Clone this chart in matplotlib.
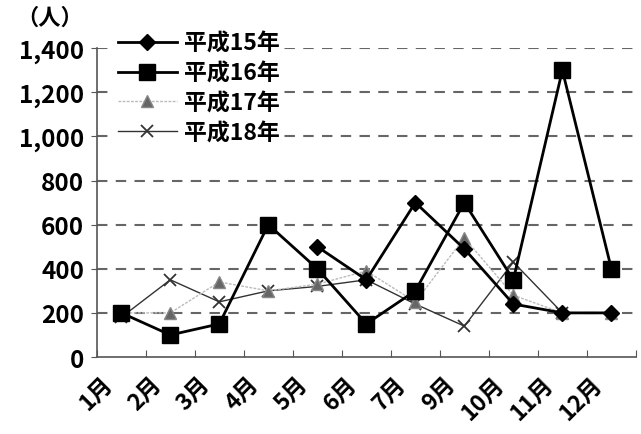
import numpy as np
import matplotlib
matplotlib.use("Agg")
import matplotlib.pyplot as plt
from matplotlib.transforms import ScaledTranslation

plt.rcParams['font.family'] = ['Noto Sans CJK JP', 'DejaVu Sans']
plt.rcParams['font.weight'] = 'bold'

months = ["1月", "2月", "3月", "4月", "5月", "6月", "7月", "9月", "10月", "11月", "12月"]
h15 = [np.nan, np.nan, np.nan, np.nan, 500, 350, 700, 490, 240, 200, 200]
h16 = [200, 100, 150, 600, 400, 150, 300, 700, 350, 1300, 400]
h17 = [200, 200, 340, 300, 330, 390, 250, 540, 280, 200, 200]
h18 = [180, 350, 250, 300, 320, 350, 240, 140, 430, 200, np.nan]
yticks = [0, 200, 400, 600, 800, 1000, 1200, 1400]

fig = plt.figure(figsize=(6.41, 4.35), dpi=100)
ax = fig.add_axes([0.151, 0.177, 0.841, 0.71])

x = np.arange(len(months))
ax.plot(x, h18, color="#333333", lw=1.0, marker="x", ms=9, mew=1.3, label="平成18年", zorder=3)
ax.plot(x, h17, color="#bbbbbb", lw=1.0, ls=(0, (2, 1)), marker="^", ms=8,
        mfc="#666666", mec="#888888", label="平成17年", zorder=4)
ax.plot(x, h15, color="black", lw=2.0, marker="D", ms=8, label="平成15年", zorder=5)
ax.plot(x, h16, color="black", lw=2.0, marker="s", ms=11.5, label="平成16年", zorder=6)

ax.set_xlim(-0.5, len(months) - 0.5)
ax.set_ylim(0, 1400)
ax.set_yticks(yticks)
ax.set_yticklabels([f"{v:,}" for v in yticks], fontsize=17.5)
for v in yticks[1:]:
    ax.axhline(v, color="#666666", lw=1.5, ls=(0, (5, 4)), zorder=1)

# month labels: rotated, hanging to the lower left of each category
ax.set_xticks(np.arange(-0.5, len(months)))
ax.set_xticklabels([])
ax.tick_params(axis="x", direction="in", length=5, color="#555555")
shift = ScaledTranslation(-21 / 100, -15 / 100, fig.dpi_scale_trans)
for i, m in enumerate(months):
    ax.text(i, 0, m, transform=ax.get_xaxis_transform() + shift, rotation=45,
            ha="right", va="top", rotation_mode="anchor", fontsize=16.5)
ax.tick_params(axis="y", direction="out", length=4, color="#555555", pad=5)

for s in ["top", "right"]:
    ax.spines[s].set_visible(False)
for s in ["left", "bottom"]:
    ax.spines[s].set_color("#555555")
    ax.spines[s].set_linewidth(1.2)

fig.text(0.078, 0.958, "（人）", fontsize=16, ha="center", va="center")

handles, labels = ax.get_legend_handles_labels()
order = [2, 3, 1, 0]
leg = fig.legend([handles[i] for i in order], [labels[i] for i in order],
                 loc="upper left", bbox_to_anchor=(0.18, 0.93), fontsize=16.5,
                 frameon=True, handlelength=2.6, handletextpad=0.3,
                 labelspacing=0.3, borderpad=0.1, borderaxespad=0)
leg.get_frame().set_edgecolor("none")
leg.get_frame().set_facecolor("white")
leg.get_frame().set_alpha(1)

fig.savefig("out.png", dpi=100)
